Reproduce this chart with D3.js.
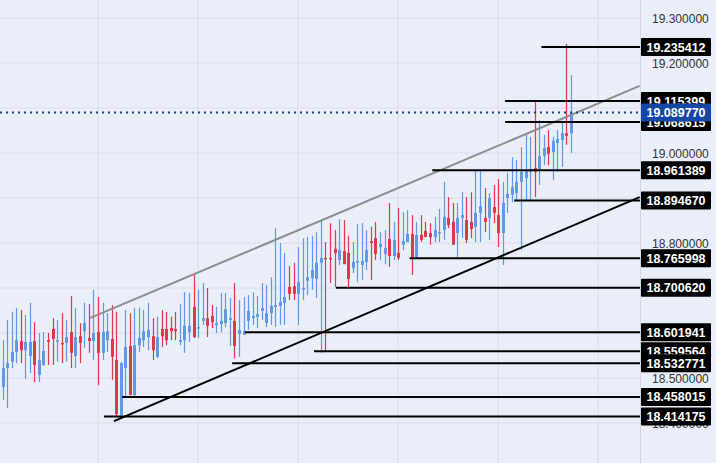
<!DOCTYPE html>
<html><head><meta charset="utf-8">
<script src="https://cdn.jsdelivr.net/npm/d3@7"></script>
<style>body{margin:0;background:#eaeef8}svg{display:block}</style>
</head><body><svg id="c" width="716" height="463"></svg>
<script>
// candles: [open, high, low, close]
const candles = [
[18.480,18.584,18.451,18.522],[18.522,18.629,18.433,18.533],[18.536,18.647,18.522,18.558],[18.558,18.656,18.533,18.584],
[18.582,18.651,18.533,18.562],[18.562,18.640,18.498,18.580],[18.549,18.667,18.511,18.580],[18.582,18.624,18.491,18.529],
[18.507,18.600,18.491,18.540],[18.529,18.602,18.527,18.560],[18.584,18.600,18.529,18.580],[18.609,18.633,18.529,18.587],
[18.582,18.629,18.536,18.584],[18.578,18.644,18.533,18.576],[18.578,18.629,18.536,18.591],[18.602,18.682,18.522,18.556],
[18.549,18.656,18.522,18.591],[18.593,18.622,18.533,18.578],[18.604,18.667,18.567,18.622],[18.589,18.664,18.556,18.582],
[18.582,18.696,18.540,18.600],[18.602,18.680,18.484,18.556],[18.556,18.667,18.540,18.602],[18.584,18.644,18.558,18.604],
[18.587,18.662,18.496,18.547],[18.540,18.647,18.413,18.420],[18.418,18.536,18.411,18.533],[18.522,18.651,18.458,18.569],
[18.571,18.644,18.462,18.462],[18.462,18.656,18.458,18.573],[18.573,18.656,18.558,18.589],[18.584,18.651,18.569,18.604],
[18.591,18.667,18.562,18.607],
[18.593,18.633,18.540,18.562],[18.547,18.636,18.544,18.591],[18.609,18.651,18.569,18.593],[18.609,18.647,18.573,18.584],
[18.611,18.636,18.584,18.604],[18.609,18.647,18.584,18.604],[18.580,18.664,18.573,18.584],[18.584,18.691,18.556,18.616],
[18.602,18.689,18.580,18.616],[18.658,18.729,18.589,18.591],[18.611,18.696,18.589,18.613],[18.627,18.711,18.618,18.633],
[18.633,18.700,18.591,18.616],[18.638,18.662,18.611,18.624],[18.618,18.658,18.600,18.622],[18.620,18.689,18.602,18.627],
[18.622,18.689,18.613,18.653],[18.629,18.678,18.571,18.633],[18.627,18.711,18.544,18.571],[18.598,18.673,18.547,18.607],
[18.596,18.680,18.596,18.604],[18.627,18.684,18.607,18.649],[18.633,18.691,18.618,18.638],[18.636,18.682,18.611,18.642],
[18.649,18.711,18.629,18.656],[18.622,18.707,18.613,18.644],[18.644,18.724,18.618,18.660],[18.658,18.833,18.613,18.662],
[18.660,18.800,18.618,18.669],[18.667,18.778,18.618,18.680],[18.702,18.749,18.673,18.687],[18.704,18.756,18.673,18.687],
[18.687,18.791,18.618,18.713],[18.696,18.811,18.673,18.700],[18.716,18.813,18.684,18.724],[18.722,18.816,18.696,18.740],
[18.720,18.824,18.678,18.756],[18.756,18.851,18.556,18.767],[18.767,18.802,18.558,18.764],[18.767,18.844,18.711,18.764],
[18.787,18.829,18.702,18.778],[18.762,18.853,18.751,18.784],[18.782,18.851,18.753,18.753],[18.778,18.816,18.702,18.720],
[18.744,18.802,18.733,18.758],[18.758,18.842,18.713,18.760],[18.751,18.844,18.718,18.760],[18.758,18.829,18.740,18.784],
[18.804,18.836,18.718,18.800],[18.811,18.847,18.762,18.776],[18.791,18.824,18.762,18.798],[18.776,18.829,18.753,18.789],
[18.809,18.889,18.747,18.771],[18.771,18.847,18.762,18.807],[18.778,18.878,18.762,18.767],[18.796,18.869,18.784,18.804],
[18.802,18.873,18.802,18.820],[18.820,18.862,18.729,18.769],[18.769,18.847,18.767,18.818],[18.818,18.862,18.802,18.807],
[18.827,18.847,18.813,18.813],[18.822,18.844,18.796,18.813],[18.813,18.858,18.802,18.829],[18.822,18.876,18.802,18.824],
[18.829,18.936,18.807,18.858],[18.856,18.902,18.833,18.840],[18.847,18.889,18.796,18.796],[18.822,18.889,18.769,18.856],
[18.856,18.913,18.811,18.862],[18.851,18.902,18.800,18.807],[18.847,18.913,18.811,18.831],[18.836,18.962,18.802,18.867],
[18.867,18.964,18.802,18.882],[18.856,18.922,18.824,18.847],[18.856,18.911,18.807,18.900],[18.880,18.929,18.844,18.867],
[18.862,18.942,18.791,18.822],[18.822,18.936,18.751,18.889],[18.900,18.956,18.867,18.909],[18.907,18.991,18.891,18.924],
[18.911,18.984,18.896,18.936],[18.936,19.013,18.784,18.958],[18.944,19.040,18.896,18.960],[18.958,19.036,18.896,18.964],
[18.967,19.118,18.902,18.958],[18.964,19.073,18.929,18.993],[18.993,19.040,18.973,19.011],[19.013,19.051,18.973,18.998],
[19.002,19.036,18.940,19.027],[19.022,19.051,18.958,19.031],[19.029,19.069,18.969,19.044],[19.044,19.242,19.018,19.038],
[19.044,19.173,19.000,19.090]
];
const gridTicks = [19.3,19.2,19.1,19.0,18.9,18.8,18.7,18.6,18.5,18.4,18.3];
const axisLabels = [19.3,19.2,19.0,18.8,18.5,18.4];
const gridX = [21,43,65,87,109,131];   // candle index of vertical gridlines
// horizontal levels: [price, starting candle index]
const levels = [
[19.235412,118.5],[19.115399,110.5],[19.068615,110.5],[18.961389,94.5],[18.894670,112.5],
[18.765998,89.5],[18.700620,73.3],[18.601941,53.3],[18.559564,68.5],[18.532771,50.5],
[18.458015,26.3],[18.414175,22.3]
];
const lastPrice = 19.089770;
const upperTrend = [[19.2,18.633],[140.1,19.149]];
const lowerTrend = [[24.5,18.404],[140.1,18.902]];

const svg = d3.select('#c');
const x = d3.scaleLinear().domain([0,125]).range([2.5,571]);
const y = d3.scaleLinear().domain([18.3,19.34]).range([468,0]);
const plotR = 640;

const g = svg.append('g');
g.selectAll('.hg').data(gridTicks).join('line')
 .attr('x1',0).attr('x2',plotR).attr('y1',d=>y(d)).attr('y2',d=>y(d))
 .attr('stroke','#d8deea').attr('stroke-width',1);
g.selectAll('.vg').data(gridX).join('line')
 .attr('x1',d=>x(d)).attr('x2',d=>x(d)).attr('y1',0).attr('y2',463)
 .attr('stroke','#d8deea').attr('stroke-width',1);
svg.append('line').attr('x1',plotR+0.5).attr('x2',plotR+0.5).attr('y1',0).attr('y2',463).attr('stroke','#d0d6e2');

svg.selectAll('.tl').data(axisLabels).join('text')
 .attr('x',652).attr('y',d=>y(d)+4.5).text(d=>d.toFixed(6))
 .attr('font-family','Liberation Sans, Arial, sans-serif').attr('font-size',12).attr('fill','#333');

const up='#5f98e6', dn='#e0374a';
const cg = svg.append('g');
cg.selectAll('.w').data(candles).join('line')
 .attr('x1',(d,i)=>Math.round(x(i))+0.5).attr('x2',(d,i)=>Math.round(x(i))+0.5)
 .attr('y1',d=>y(d[1])).attr('y2',d=>y(d[2]))
 .attr('stroke',d=>d[3]>=d[0]?up:dn).attr('stroke-width',1.2);
cg.selectAll('.b').data(candles).join('rect')
 .attr('x',(d,i)=>Math.round(x(i))-1).attr('width',3)
 .attr('y',d=>y(Math.max(d[0],d[3])))
 .attr('height',d=>Math.max(1.5,Math.abs(y(d[0])-y(d[3]))))
 .attr('fill',d=>d[3]>=d[0]?up:dn);

const line = d3.line().x(d=>x(d[0])).y(d=>y(d[1]));
svg.append('path').attr('d',line(upperTrend)).attr('stroke','#8c8c8c').attr('stroke-width',2).attr('fill','none');
svg.append('path').attr('d',line(lowerTrend)).attr('stroke','#000').attr('stroke-width',2).attr('fill','none');

svg.selectAll('.lv').data(levels).join('line')
 .attr('x1',d=>x(d[1])).attr('x2',plotR).attr('y1',d=>y(d[0])).attr('y2',d=>y(d[0]))
 .attr('stroke','#000').attr('stroke-width',2);
svg.append('line').attr('x1',0).attr('x2',plotR).attr('y1',y(lastPrice)).attr('y2',y(lastPrice))
 .attr('stroke','#1a3f8f').attr('stroke-width',2).attr('stroke-dasharray','2,4');

const lab = svg.append('g');
const drawLab=(p,fill)=>{
  const gg=lab.append('g');
  gg.append('rect').attr('x',641).attr('y',y(p)-9).attr('width',70).attr('height',18).attr('rx',1).attr('fill',fill);
  gg.append('text').attr('x',676).attr('y',y(p)+4.5).attr('text-anchor','middle').text(p.toFixed(6))
   .attr('font-family','Liberation Sans, Arial, sans-serif').attr('font-size',12.5).attr('font-weight','bold').attr('fill','#fff');
};
levels.forEach(d=>drawLab(d[0],'#000'));
drawLab(lastPrice,'#1747a6');
</script></body></html>
